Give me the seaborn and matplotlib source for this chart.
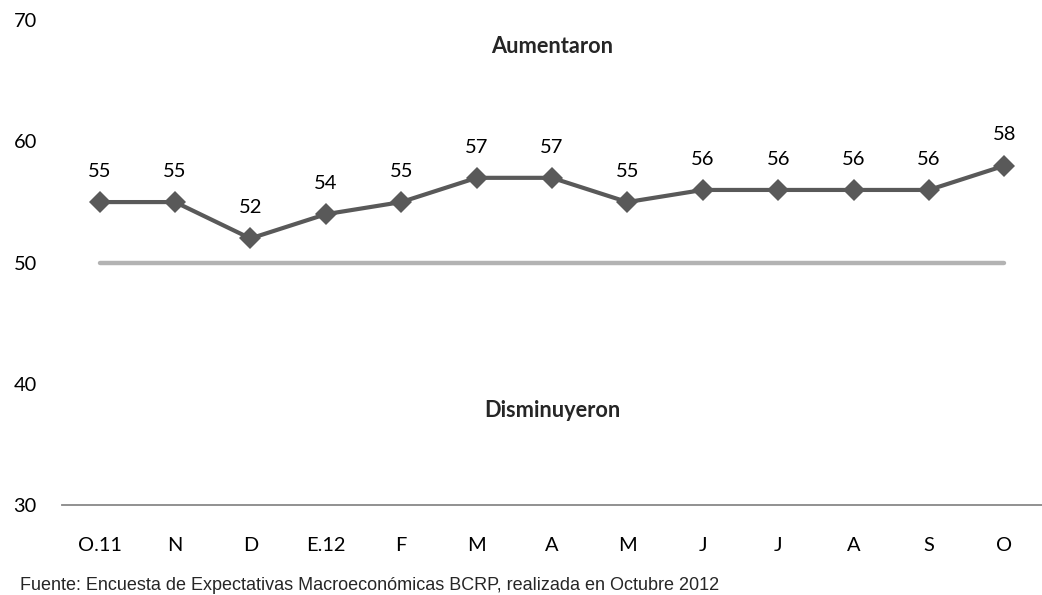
import numpy as np
import pandas as pd
import seaborn as sns
import matplotlib.pyplot as plt

# datos
meses = ['O.11', 'N', 'D', 'E.12', 'F', 'M', 'A', 'M', 'J', 'J', 'A', 'S', 'O']
valores = [55, 55, 52, 54, 55, 57, 57, 55, 56, 56, 56, 56, 58]
umbral = 50
y_ticks = [30, 40, 50, 60, 70]

sns.set_style('white')
plt.rcParams['font.family'] = ['Lato', 'DejaVu Sans']

df = pd.DataFrame({'pos': np.arange(len(meses)), 'valor': valores,
                   'umbral': [umbral] * len(meses)})

fig = plt.figure(figsize=(10.42, 5.95), dpi=100)
ax = fig.add_axes([0.0595, 0.151, 0.9405, 0.815])

sns.lineplot(data=df, x='pos', y='umbral', color='#b3b3b3', linewidth=3.2,
             solid_capstyle='round', ax=ax)
sns.lineplot(data=df, x='pos', y='valor', color='#595959', linewidth=3,
             marker='D', markersize=11, markeredgewidth=0, ax=ax)

for i, v in enumerate(valores):
    ax.annotate(str(v), (i, v), xytext=(0, 16), textcoords='offset points',
                ha='center', va='bottom', fontsize=14.5, color='#000000')

ax.set_xlim(-0.5, len(meses) - 0.5)
ax.set_ylim(y_ticks[0], y_ticks[-1])
ax.set_xticks(np.arange(len(meses)))
ax.set_xticklabels(meses)
ax.set_yticks(y_ticks)
ax.tick_params(axis='both', length=0, labelsize=14.4, colors='#000000')
ax.tick_params(axis='x', pad=23)
ax.tick_params(axis='y', pad=35)
for lbl in ax.get_yticklabels():
    lbl.set_horizontalalignment('left')
ax.set_xlabel('')
ax.set_ylabel('')

for s in ['top', 'right', 'left']:
    ax.spines[s].set_visible(False)
ax.spines['bottom'].set_color('#888888')
ax.spines['bottom'].set_linewidth(1.3)

ax.text(6, 67.8, 'Aumentaron', ha='center', va='center', fontsize=15.7,
        fontweight='bold')
ax.text(6, 37.8, 'Disminuyeron', ha='center', va='center', fontsize=15.7,
        fontweight='bold')

fig.text(0.0192, 0.016, 'Fuente: Encuesta de Expectativas Macroeconómicas BCRP, '
         'realizada en Octubre 2012', ha='left', va='center', fontsize=13,
         family='Liberation Sans')

fig.savefig('out.png', dpi=100)
